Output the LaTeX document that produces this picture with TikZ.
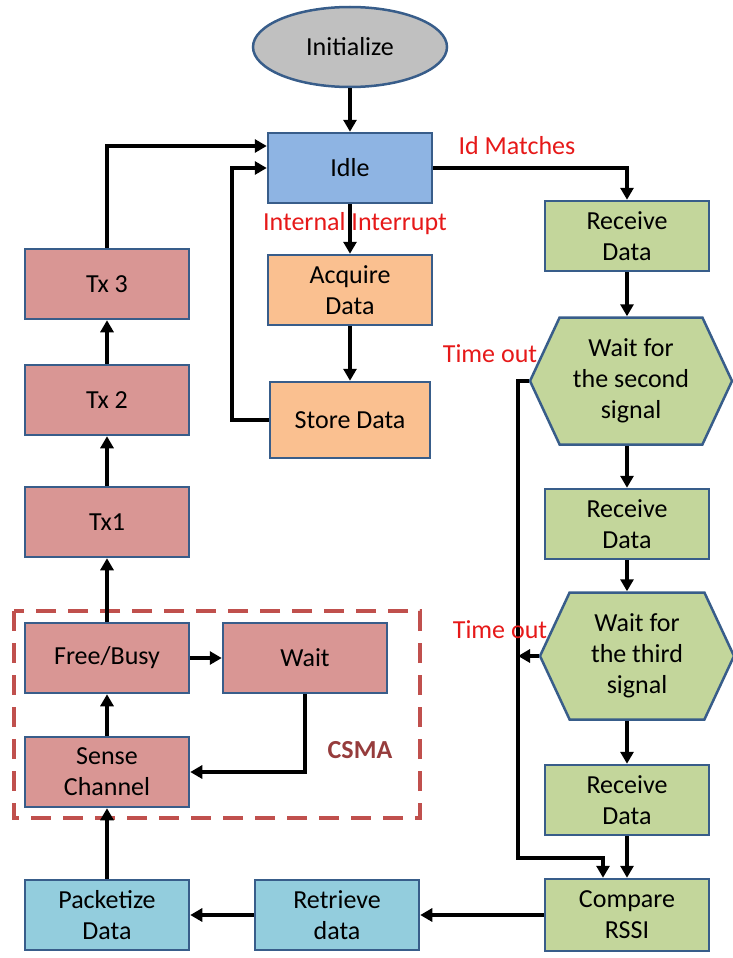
\documentclass[tikz,border=0pt]{standalone}
\usepackage{fontspec}
\setmainfont{Carlito}
\usetikzlibrary{arrows.meta,shapes.geometric,shapes.symbols}
\definecolor{edgeblue}{RGB}{56,93,138}
\definecolor{initgray}{RGB}{192,192,192}
\definecolor{idleblue}{RGB}{142,180,227}
\definecolor{storeorange}{RGB}{250,192,144}
\definecolor{txred}{RGB}{217,150,148}
\definecolor{rxgreen}{RGB}{195,214,155}
\definecolor{pktblue}{RGB}{147,205,221}
\definecolor{csmared}{RGB}{192,80,77}
\definecolor{csmatext}{RGB}{150,60,60}
\definecolor{labelred}{RGB}{230,25,25}
\begin{document}
\begin{tikzpicture}[x=1pt, y=-1pt, >={Triangle[length=12pt,width=13pt]},
    every node/.style={font=\fontsize{26}{31}\selectfont, align=center},
    box/.style={draw=edgeblue, line width=2.5pt, minimum width=164pt, minimum height=70pt, inner sep=0pt},
    hexa/.style={box, shape=signal, signal to=west and east, signal pointer angle=130, minimum height=127pt},
    flow/.style={->, line width=4pt},
    note/.style={text=labelred}]
  \useasboundingbox (0,0) rectangle (733,958);
  % top of the chart
  \node[box, ellipse, fill=initgray, minimum width=194pt, minimum height=80pt] (init) at (350,47) {Initialize};
  \node[box, fill=idleblue] (idle) at (350,168) {Idle};
  \node[box, fill=storeorange] (acq) at (350,290) {Acquire\\Data};
  \node[box, fill=storeorange, minimum width=160pt, minimum height=76pt] (store) at (350,420) {Store Data};
  % transmit side
  \node[box, fill=txred] (tx3) at (107,284) {Tx 3};
  \node[box, fill=txred] (tx2) at (107,400) {Tx 2};
  \node[box, fill=txred] (tx1) at (107,522) {Tx1};
  \node[box, fill=txred] (fb) at (107,658) {Free/Busy};
  \node[box, fill=txred] (wait) at (305,658) {Wait};
  \node[box, fill=txred] (sense) at (107,772) {Sense\\Channel};
  \draw[csmared, line width=4pt, dash pattern=on 20pt off 12pt] (14,611) rectangle (420,818);
  \node[font=\fontsize{26}{31}\selectfont\bfseries, text=csmatext] (csma) at (360,750) {CSMA};
  % receive side
  \node[box, fill=rxgreen] (rd1) at (627,236) {Receive\\Data};
  \node[hexa, fill=rxgreen, minimum width=202pt] (hex1) at (631,381) {Wait for\\the second\\signal};
  \node[box, fill=rxgreen] (rd2) at (627,524) {Receive\\Data};
  \node[hexa, fill=rxgreen, minimum width=194pt] (hex2) at (637,656) {Wait for\\the third\\signal};
  \node[box, fill=rxgreen] (rd3) at (627,800) {Receive\\Data};
  \node[box, fill=rxgreen, minimum height=72pt] (cmp) at (627,915) {Compare\\RSSI};
  \node[box, fill=pktblue] (ret) at (337,915) {Retrieve\\data};
  \node[box, fill=pktblue] (pkt) at (107,915) {Packetize\\Data};
  \coordinate (tbus) at (518,858);
  % connectors
  \draw[flow] (init) -- (idle);
  \draw[flow] (idle) -- (acq);
  \draw[flow] (acq) -- (store);
  \draw[flow] (store.west) -- ++(-37,0) |- (idle.west);
  \draw[flow] (tx3.north) |- ([yshift=22pt]idle.west);
  \draw[flow] (tx2) -- (tx3);
  \draw[flow] (tx1) -- (tx2);
  \draw[flow] (fb) -- (tx1);
  \draw[flow] (sense) -- (fb);
  \draw[flow] (fb) -- (wait);
  \draw[flow] (wait.south) |- (sense.east);
  \draw[flow] (pkt) -- (sense);
  \draw[flow] (idle.east) -| (rd1.north);
  \draw[flow] (rd1.south) -- (rd1.south |- hex1.north);
  \draw[flow] (rd1.south |- hex1.south) -- (rd2.north);
  \draw[flow] (rd2.south) -- (rd2.south |- hex2.north);
  \draw[flow] (rd2.south |- hex2.south) -- (rd3.north);
  \draw[flow] (rd3) -- (cmp);
  \draw[flow] (hex1.west) -| (tbus) -| ([xshift=-24pt]cmp.north);
  \draw[flow] (hex2.west) -- (hex2.west -| tbus);
  \draw[flow] (cmp) -- (ret);
  \draw[flow] (ret) -- (pkt);
  % labels
  \node[note] (idm) at (517,146) {Id Matches};
  \node[note] (intr) at (355,224) {Internal Interrupt};
  \node[note] (to1) at (490,354) {Time out};
  \node[note] (to2) at (500,630) {Time out};
\end{tikzpicture}
\end{document}
